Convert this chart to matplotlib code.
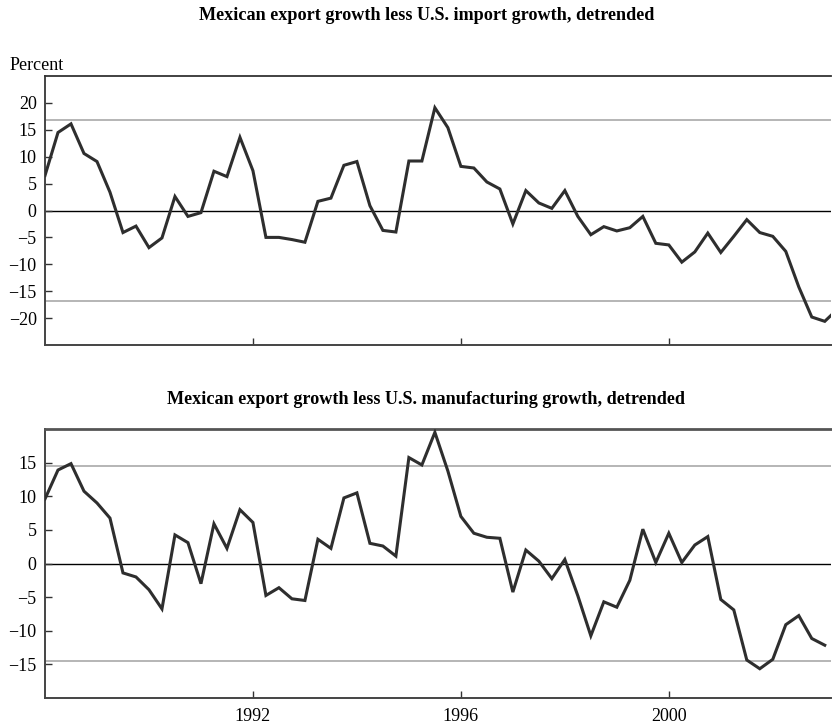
import numpy as np
import matplotlib.pyplot as plt

# quarterly data, 1988Q1 onwards
import_gap = [6.5, 14.5, 16.1, 10.6, 9.1, 3.4, -4.1, -2.9, -6.9, -5.1,
              2.6, -1.1, -0.4, 7.3, 6.3, 13.6, 7.4, -5.0, -5.0, -5.4,
              -5.9, 1.7, 2.3, 8.4, 9.1, 0.9, -3.7, -4.0, 9.2, 9.2,
              19.1, 15.4, 8.2, 7.9, 5.3, 4.0, -2.5, 3.7, 1.4, 0.4,
              3.7, -1.1, -4.5, -3.0, -3.8, -3.2, -1.1, -6.1, -6.4, -9.6,
              -7.7, -4.2, -7.8, -4.8, -1.7, -4.1, -4.8, -7.6, -14.2, -19.8,
              -20.6, -18.3]
manuf_gap = [9.6, 13.9, 14.85, 10.75, 9.0, 6.75, -1.4, -2.0, -3.9, -6.75,
             4.25, 3.1, -3.0, 5.9, 2.25, 8.0, 6.1, -4.75, -3.6, -5.25,
             -5.5, 3.6, 2.25, 9.75, 10.5, 3.0, 2.6, 1.1, 15.75, 14.65,
             19.5, 13.75, 7.0, 4.5, 3.9, 3.75, -4.25, 2.0, 0.35, -2.25,
             0.6, -4.8, -10.75, -5.7, -6.5, -2.5, 5.1, 0.15, 4.5, 0.15,
             2.75, 4.0, -5.35, -6.9, -14.35, -15.65, -14.25, -9.1, -7.75, -11.15,
             -12.15]

titles = ["Mexican export growth less U.S. import growth, detrended",
          "Mexican export growth less U.S. manufacturing growth, detrended"]
bands = [16.8, 14.55]
ylims = [(-25, 25), (-20, 20)]
yticks = [np.arange(-20, 21, 5), np.arange(-15, 16, 5)]
year_ticks = [1992, 1996, 2000]

plt.rcParams['font.family'] = ['Liberation Serif', 'DejaVu Serif']

fig = plt.figure(figsize=(8.32, 7.26), dpi=100)
W, H = 832, 726
ax_boxes = [(45, 76, 345), (45, 429, 698)]
axes = []
for (x0, top, bot) in ax_boxes:
    ax = fig.add_axes([x0 / W, 1 - bot / H, (831 - x0) / W, (bot - top) / H])
    axes.append(ax)

for i, (ax, vals) in enumerate(zip(axes, [import_gap, manuf_gap])):
    t = 1988 + np.arange(len(vals)) * 0.25
    ax.axhline(bands[i], color='#b0b0b0', lw=1.3, zorder=1)
    ax.axhline(-bands[i], color='#b0b0b0', lw=1.3, zorder=1)
    ax.axhline(0, color='black', lw=1.0, zorder=1)
    ax.plot(t, vals, color='#2e2e2e', lw=2.2, zorder=3, solid_joinstyle='miter')
    ax.set_xlim(1988, 2003.12)
    ax.set_ylim(*ylims[i])
    ax.set_yticks(yticks[i])
    ax.set_xticks(year_ticks)
    ax.tick_params(axis='both', direction='in', length=5, width=1, color='#333333',
                   labelsize=13, pad=6)
    ax.tick_params(axis='x', length=5, pad=7)
    ax.spines['right'].set_visible(False)
    for s in ['left', 'bottom', 'top']:
        ax.spines[s].set_color('#444444')
        ax.spines[s].set_linewidth(1.4)
    ax.spines['top'].set_color('#555555' if i == 1 else '#333333')
    ax.spines['top'].set_linewidth(2.0 if i == 1 else 1.3)
    if i == 0:
        ax.set_xticklabels([])

fig.text(427 / W, 1 - 15 / H, titles[0], ha='center', va='center',
         fontsize=13.1, fontweight='bold')
fig.text(426 / W, 1 - 400 / H, titles[1], ha='center', va='center',
         fontsize=13.1, fontweight='bold')
fig.text(10 / W, 1 - 66 / H, "Percent", ha='left', va='center', fontsize=13)

fig.savefig("out.png", dpi=100)
